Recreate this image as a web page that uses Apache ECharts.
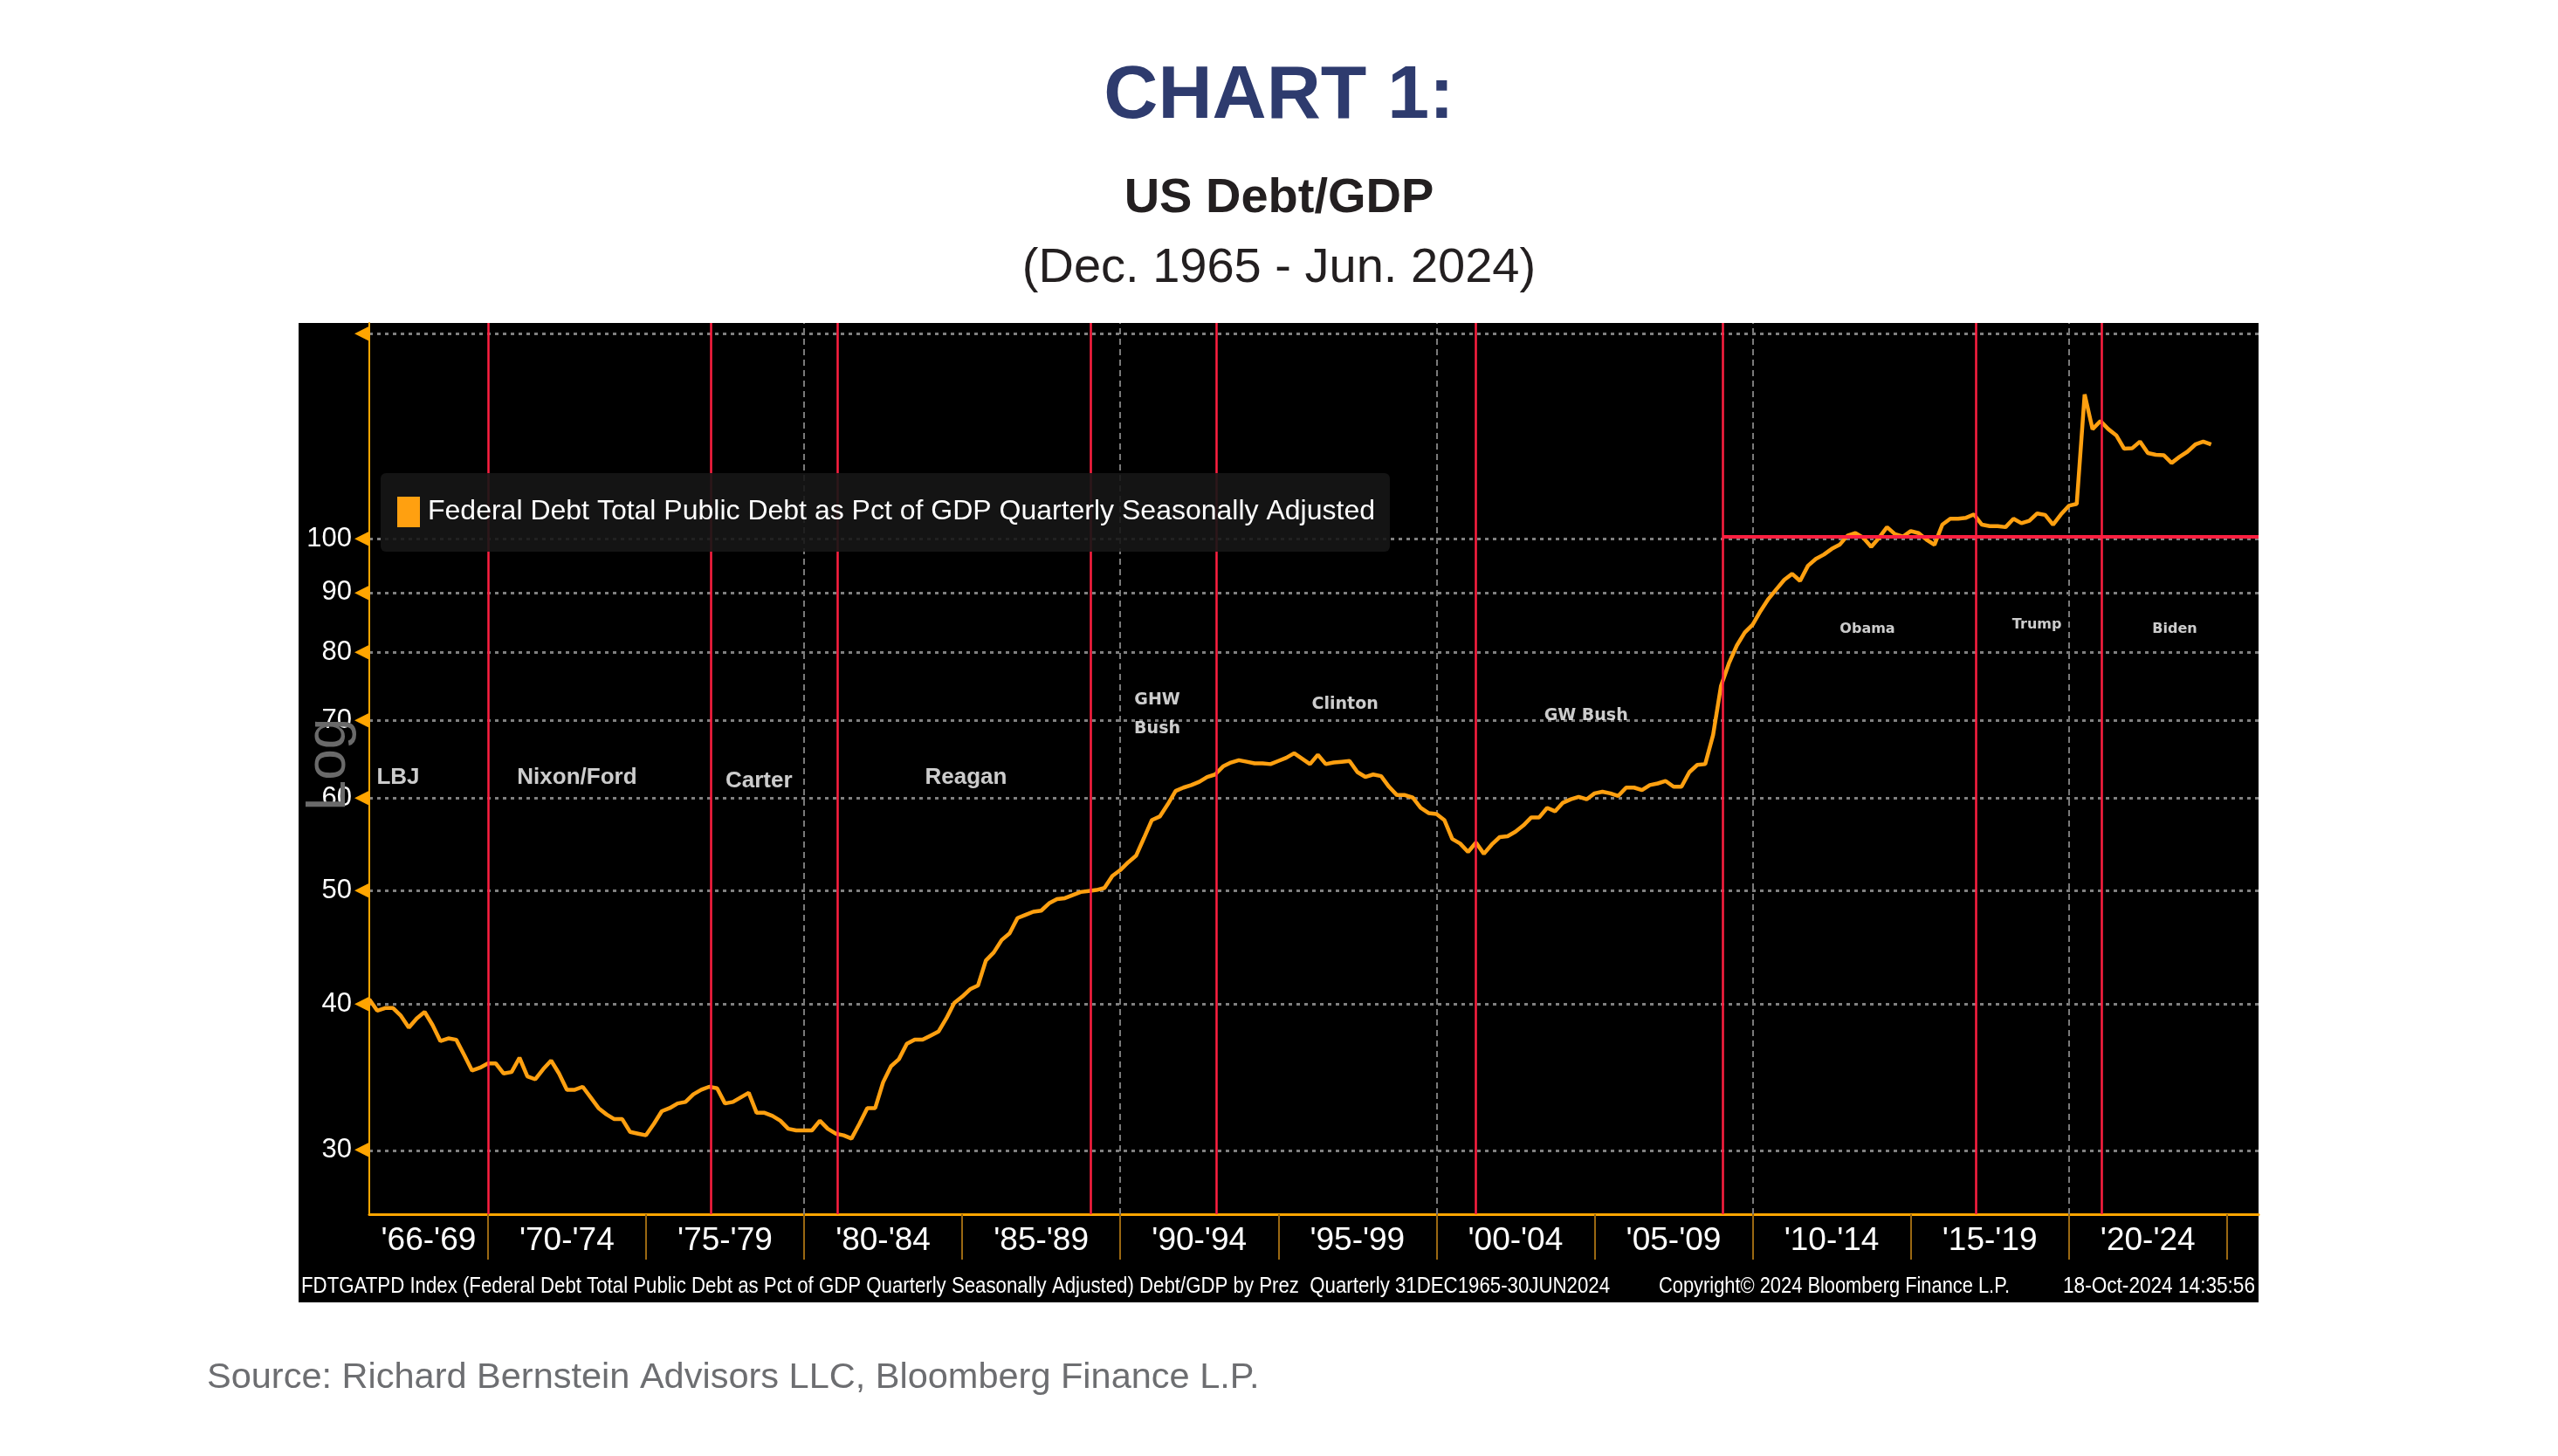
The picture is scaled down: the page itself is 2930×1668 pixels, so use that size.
<!DOCTYPE html>
<html>
<head>
<meta charset="utf-8">
<title>US Debt/GDP</title>
<script src="https://cdn.jsdelivr.net/npm/echarts@6/dist/echarts.min.js"></script>
<style>
  html, body { margin: 0; padding: 0; background: #fff; }
  #chart { width: 2930px; height: 1668px; }
</style>
</head>
<body>
<div id="chart"></div>
<script>
// Federal debt as % of GDP, quarterly, first point = 1966 Q1
const firstYear = 1966
const debt1960s = [40.4, 39.5, 39.7, 39.7, 39.1, 38.2, 38.9, 39.4, 38.4, 37.2, 37.4, 37.3, 36.2, 35.1, 35.3, 35.6]
const debt1970s = [35.6, 34.9, 35.0, 36.0, 34.7, 34.5, 35.2, 35.8, 34.9, 33.8, 33.8, 34.0, 33.3, 32.6, 32.2, 31.9,
  31.9, 31.1, 31.0, 30.9, 31.6, 32.4, 32.6, 32.9, 33.0, 33.5, 33.8, 34.0, 33.9, 32.9, 33.0, 33.3,
  33.6, 32.3, 32.3, 32.1, 31.8, 31.3, 31.2, 31.2]
const debt1980s = [31.2, 31.8, 31.3, 31.0, 30.9, 30.7, 31.6, 32.6, 32.6, 34.3, 35.4, 35.9, 37.0, 37.3, 37.3, 37.6,
  37.9, 38.9, 40.1, 40.6, 41.2, 41.5, 43.6, 44.3, 45.4, 46.0, 47.4, 47.7, 48.0, 48.1, 48.8, 49.2,
  49.3, 49.6, 49.9, 50.0, 50.1, 50.3, 51.5, 52.1]
const debt1990s = [52.9, 53.6, 55.5, 57.5, 57.9, 59.3, 60.9, 61.3, 61.6, 62.0, 62.6, 62.9, 63.9, 64.4, 64.7, 64.5,
  64.3, 64.3, 64.2, 64.6, 65.0, 65.6, 64.9, 64.2, 65.4, 64.2, 64.4, 64.5, 64.6, 63.2, 62.6, 62.9,
  62.7, 61.4, 60.4, 60.4, 60.1, 58.9, 58.3, 58.2]
const debt2000s = [57.5, 55.4, 54.9, 54.0, 55.0, 53.8, 54.8, 55.6, 55.7, 56.2, 56.9, 57.8, 57.8, 58.9, 58.5, 59.5,
  59.9, 60.2, 59.9, 60.6, 60.8, 60.6, 60.3, 61.3, 61.3, 61.0, 61.6, 61.8, 62.1, 61.4, 61.4, 63.2,
  64.1, 64.2, 68.0, 74.9, 78.3, 81.1, 83.2, 84.5]
const debt2010s = [86.8, 88.9, 90.6, 92.3, 93.4, 92.1, 94.9, 96.2, 97.0, 98.1, 98.9, 100.7, 101.2, 100.3, 98.5, 100.3,
  102.4, 101.0, 100.5, 101.6, 101.2, 99.9, 98.9, 102.9, 104.1, 104.1, 104.3, 105.0, 102.9, 102.6, 102.6, 102.4,
  104.1, 103.2, 103.7, 105.2, 104.9, 102.9, 105.0, 106.8]
const debt2020s = [107.2, 133.0, 124.2, 126.2, 124.2, 122.7, 119.5, 119.6, 121.2, 118.5, 118.1, 118.0, 116.2, 117.6,
  118.8, 120.5, 121.2, 120.5]

// x axis bands (year boundaries) and their labels
const bandEdges = [1966.25, 1970, 1975, 1980, 1985, 1990, 1995, 2000, 2005, 2010, 2015, 2020, 2025]
const bandLabels = ["'66-'69", "'70-'74", "'75-'79", "'80-'84", "'85-'89", "'90-'94", "'95-'99",
  "'00-'04", "'05-'09", "'10-'14", "'15-'19", "'20-'24"]
const decades = [1980, 1990, 2000, 2010, 2020]
const yTicks = [30, 40, 50, 60, 70, 80, 90, 100, 150]

// presidential terms: red lines (decimal year) and the name tags
const termStarts = [1970.0, 1977.05, 1981.05, 1989.05, 1993.05, 2001.25, 2009.05, 2017.05, 2021.05]
const presidents = ['LBJ', 'Nixon/Ford', 'Carter', 'Reagan', 'GHW\nBush', 'Clinton', 'GW Bush', 'Obama', 'Trump', 'Biden']
const presYears = [1967.16, 1972.82, 1978.57, 1985.12, 1991.17, 1997.11, 2004.73, 2013.63, 2018.99, 2023.35]
const presLevels = [62.5, 62.5, 62.1, 62.5, 70.8, 72.2, 70.6, 83.7, 84.45, 83.7]
const hundredLevel = 100.5
const hundredFrom = 2009.05

const seriesName = 'Federal Debt Total Public Debt as Pct of GDP Quarterly Seasonally Adjusted'
const sans = "'Liberation Sans', Arial, sans-serif"
const footFont = "26px 'Liberation Sans'"

const debt = [...debt1960s, ...debt1970s, ...debt1980s, ...debt1990s, ...debt2000s, ...debt2010s, ...debt2020s]
const points = debt.map((v, i) => [firstYear + (i + 1) / 4, v])
const bandCenters = bandLabels.map((_, i) => (bandEdges[i] + bandEdges[i + 1]) / 2)

const presData = presidents.map((n, i) => {
  let font
  if (i < 4) font = {fontFamily: sans, fontWeight: 'bold', fontSize: 26}
  else if (i < 7) font = {fontFamily: 'DejaVu Sans', fontWeight: 'bold', fontSize: 19, lineHeight: 33}
  else font = {fontFamily: 'DejaVu Sans', fontWeight: 'bold', fontSize: 16}
  return {name: n, value: [presYears[i], presLevels[i]], label: font}
})

// squeeze the Bloomberg footer strings to the width they take in the terminal font
const measure = document.createElement('canvas').getContext('2d')
function squeeze(text, width) {
  measure.font = footFont
  return width / measure.measureText(text).width
}
const foot1 = 'FDTGATPD Index (Federal Debt Total Public Debt as Pct of GDP Quarterly Seasonally Adjusted) Debt/GDP by Prez  Quarterly 31DEC1965-30JUN2024'
const foot2 = 'Copyright\u00a9 2024 Bloomberg Finance L.P.'
const foot3 = '18-Oct-2024 14:35:56'

const chart = echarts.init(document.getElementById('chart'))

const option = {
  backgroundColor: '#ffffff',
  animation: false,
  title: [
    {
      text: 'CHART 1:', left: 'center', top: 68, padding: 0,
      textStyle: {fontFamily: sans, fontWeight: 'bold', fontSize: 86, color: '#2e3b6e'}
    },
    {
      text: 'US Debt/GDP', left: 'center', top: 200, padding: 0,
      textStyle: {fontFamily: sans, fontWeight: 'bold', fontSize: 56, color: '#231f20'}
    },
    {
      text: '(Dec. 1965 - Jun. 2024)', left: 'center', top: 280, padding: 0,
      textStyle: {fontFamily: sans, fontWeight: 'normal', fontSize: 56, color: '#231f20'}
    },
    {
      text: 'Source: Richard Bernstein Advisors LLC, Bloomberg Finance L.P.', left: 237, top: 1558, padding: 0,
      textStyle: {fontFamily: sans, fontWeight: 'normal', fontSize: 41.5, color: '#6d6e71'}
    }
  ],
  legend: {
    data: [seriesName],
    left: 436,
    top: 542,
    z: 10,
    icon: 'rect',
    itemWidth: 26,
    itemHeight: 35,
    itemGap: 0,
    padding: [27, 17, 28, 19],
    backgroundColor: 'rgba(22,22,22,0.9)',
    borderRadius: 6,
    selectedMode: false,
    textStyle: {color: '#ffffff', fontFamily: sans, fontSize: 32, padding: [0, 0, 0, 4]}
  },
  grid: {left: 423, right: 343, top: 370, bottom: 277, containLabel: false, outerBoundsMode: 'none'},
  xAxis: {
    type: 'value',
    min: 1966.25,
    max: 2026,
    axisLine: {show: true, lineStyle: {color: '#ffa500', width: 3}},
    axisTick: {show: true, customValues: bandEdges.slice(1), length: 52, lineStyle: {color: '#9a6812', width: 2}},
    axisLabel: {
      customValues: bandCenters,
      margin: 12,
      color: '#ffffff',
      fontFamily: sans,
      fontSize: 37,
      formatter: v => {
        const i = bandCenters.findIndex(c => Math.abs(c - v) < 0.01)
        return i >= 0 ? bandLabels[i] : ''
      }
    },
    splitLine: {show: false}
  },
  yAxis: {
    type: 'log',
    logBase: 10,
    min: 26.45,
    max: 153.1,
    axisLine: {show: true, lineStyle: {color: '#ffa500', width: 2}},
    axisTick: {show: false, customValues: yTicks},
    axisLabel: {
      customValues: yTicks,
      margin: 0,
      formatter: v => Math.round(v) === 150 ? '{a|◀}' : '{v|' + Math.round(v) + '}{a|◀}',
      rich: {
        v: {color: '#ffffff', fontFamily: sans, fontSize: 31, padding: [0, 3, 0, 0]},
        a: {color: '#ffa500', fontFamily: 'DejaVu Sans', fontSize: 22}
      }
    },
    splitLine: {show: true, lineStyle: {color: '#808080', width: 3, type: [4, 5]}}
  },
  graphic: [
    {
      type: 'rect', z: -10, silent: true,
      shape: {x: 342, y: 370, width: 2245, height: 1122},
      style: {fill: '#000000'}
    },
    {
      type: 'text', z: 1, silent: true, x: 377, y: 876, rotation: Math.PI / 2,
      style: {text: 'Log', fill: '#6a6a6a', font: "64px 'Liberation Sans'", align: 'center', verticalAlign: 'middle'}
    },
    {
      type: 'text', z: 10, silent: true, x: 345, y: 1474, scaleX: squeeze(foot1, 1499),
      style: {text: foot1, fill: '#ffffff', font: footFont, verticalAlign: 'middle'}
    },
    {
      type: 'text', z: 10, silent: true, x: 1900, y: 1474, scaleX: squeeze(foot2, 402),
      style: {text: foot2, fill: '#ffffff', font: footFont, verticalAlign: 'middle'}
    },
    {
      type: 'text', z: 10, silent: true, x: 2583, y: 1474, scaleX: squeeze(foot3, 220),
      style: {text: foot3, fill: '#ffffff', font: footFont, align: 'right', verticalAlign: 'middle'}
    }
  ],
  series: [
    {
      name: seriesName,
      type: 'line',
      data: points,
      showSymbol: false,
      z: 3,
      color: '#ffa010',
      lineStyle: {color: '#ffa010', width: 4.5},
      markLine: {
        silent: true,
        animation: false,
        symbol: ['none', 'none'],
        label: {show: false},
        lineStyle: {color: '#ff1f40', width: 2.5, type: 'solid'},
        data: [
          ...termStarts.map(x => ({xAxis: x})),
          [
            {coord: [hundredFrom, hundredLevel], lineStyle: {color: '#ff1f40', width: 4, type: 'solid'}},
            {coord: [2026, hundredLevel]}
          ]
        ]
      }
    },
    {
      name: 'presidents',
      type: 'scatter',
      data: presData,
      symbolSize: 0,
      z: 6,
      silent: true,
      label: {show: true, position: 'inside', formatter: '{b}', color: '#ffffff'},
      markLine: {
        silent: true,
        animation: false,
        z: 1,
        symbol: ['none', 'none'],
        label: {show: false},
        lineStyle: {color: '#7a7a7a', width: 2, type: [7, 5]},
        data: decades.map(x => ({xAxis: x}))
      }
    }
  ]
}

chart.setOption(option)
</script>
</body>
</html>
